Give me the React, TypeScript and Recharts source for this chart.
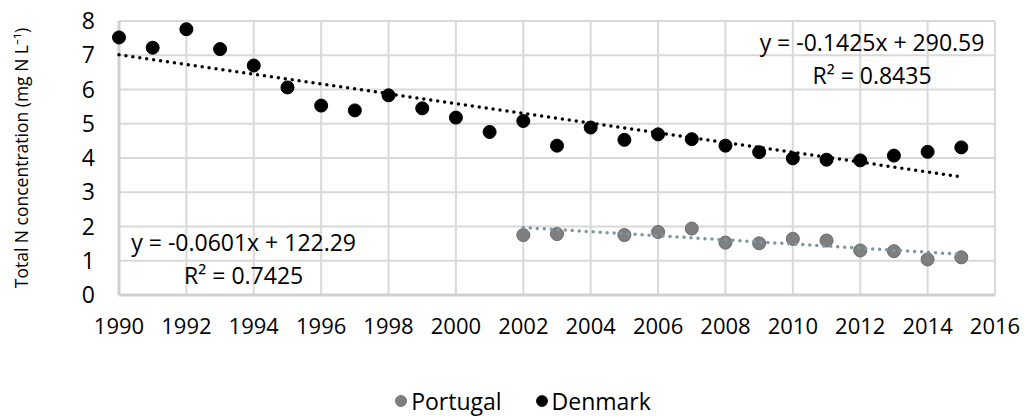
import React from 'react';
import { ScatterChart, Scatter, XAxis, YAxis, CartesianGrid, Legend, ReferenceDot } from 'recharts';

// values
const denmarkYears = [1990, 1991, 1992, 1993, 1994, 1995, 1996, 1997, 1998, 1999, 2000, 2001, 2002, 2003, 2004, 2005, 2006, 2007, 2008, 2009, 2010, 2011, 2012, 2013, 2014, 2015];
const denmarkValues = [7.52, 7.22, 7.76, 7.18, 6.7, 6.06, 5.53, 5.39, 5.83, 5.45, 5.18, 4.76, 5.08, 4.36, 4.89, 4.53, 4.69, 4.55, 4.36, 4.17, 3.99, 3.95, 3.93, 4.07, 4.18, 4.31];

const portugalYears = [2002, 2003, 2005, 2006, 2007, 2008, 2009, 2010, 2011, 2012, 2013, 2014, 2015];
const portugalValues = [1.75, 1.78, 1.75, 1.84, 1.94, 1.53, 1.51, 1.64, 1.59, 1.3, 1.28, 1.04, 1.1];

// linear trendlines as printed on the chart
const denmarkTrend = { slope: -0.1425, intercept: 290.59, r2: 0.8435 };
const portugalTrend = { slope: -0.0601, intercept: 122.29, r2: 0.7425 };

const seriesOrder = ['Portugal', 'Denmark'];
const xTicks = [1990, 1992, 1994, 1996, 1998, 2000, 2002, 2004, 2006, 2008, 2010, 2012, 2014, 2016];
const yTicks = [0, 1, 2, 3, 4, 5, 6, 7, 8];

const FONT = '"Open Sans", sans-serif';

const toPoints = (xs: number[], ys: number[]) => xs.map((x, i) => ({ x, y: ys[i] }));

const trendPoints = (xs: number[], t: { slope: number; intercept: number }) => {
  const first = xs[0];
  const last = xs[xs.length - 1];
  return [first, last].map(x => ({ x, y: t.slope * x + t.intercept }));
};

const eqText = (t: { slope: number; intercept: number }) =>
  `y = ${t.slope.toFixed(4)}x + ${t.intercept.toFixed(2)}`;

const Dot = (fill: string, stroke: string) => (props: any) => (
  <circle cx={props.cx} cy={props.cy} r={6.5} fill={fill} stroke={stroke} strokeWidth={1} />
);

const NoShape = () => <g />;

const textLabel = (value: string) => (p: any) => (
  <text
    x={p.viewBox.x}
    y={p.viewBox.y}
    textAnchor="middle"
    dominantBaseline="central"
    fontSize={23}
    fontFamily={FONT}
    fill="#000"
  >
    {value}
  </text>
);

const LegendContent = (props: any) => {
  const items = (props.payload || [])
    .filter((e: any) => e.type !== 'none')
    .sort((a: any, b: any) => seriesOrder.indexOf(a.value) - seriesOrder.indexOf(b.value));
  return (
    <div style={{ display: 'flex', justifyContent: 'center', alignItems: 'center', height: 26, paddingLeft: 56, fontFamily: FONT, fontSize: 23, lineHeight: '26px' }}>
      {items.map((e: any) => (
        <div key={e.value} style={{ display: 'flex', alignItems: 'center', marginRight: 34 }}>
          <svg width={12} height={12} style={{ marginRight: 4 }}>
            <circle cx={6} cy={6} r={5.5} fill={e.color} stroke={e.value === 'Portugal' ? '#6a6a6a' : '#000'} strokeWidth={0.8} />
          </svg>
          <span style={{ color: '#000' }}>{e.value}</span>
        </div>
      ))}
    </div>
  );
};

export default function App() {
  const denmark = toPoints(denmarkYears, denmarkValues);
  const portugal = toPoints(portugalYears, portugalValues);

  return (
    <div style={{ position: 'absolute', left: 0, top: 0, width: 1024, height: 416, background: '#fff', fontFamily: FONT }}>
      <ScatterChart width={1024} height={416} margin={{ top: 21, right: 29, bottom: 35, left: 0 }}>
        <CartesianGrid stroke="#d9d9d9" strokeWidth={2} />
        <XAxis
          type="number"
          dataKey="x"
          domain={[1990, 2016]}
          ticks={xTicks}
          interval={0}
          height={60}
          tickLine={false}
          tickSize={0}
          tickMargin={23}
          axisLine={{ stroke: '#d0d0d0', strokeWidth: 3 }}
          tick={{ fill: '#000', fontSize: 22, fontFamily: FONT }}
        />
        <YAxis
          type="number"
          dataKey="y"
          domain={[0, 8]}
          ticks={yTicks}
          interval={0}
          width={119}
          tickLine={false}
          tickSize={0}
          tickMargin={24}
          axisLine={{ stroke: '#d0d0d0', strokeWidth: 3 }}
          tick={{ fill: '#000', fontSize: 23, fontFamily: FONT }}
          label={{
            value: 'Total N concentration (mg N L⁻¹)',
            angle: -90,
            position: 'insideLeft',
            offset: 22,
            style: { textAnchor: 'middle', fontSize: 17.5, fontFamily: FONT, fill: '#000' },
          }}
        />
        <Scatter
          name="Portugal"
          data={portugal}
          fill="#7f7f7f"
          shape={Dot('#7f7f7f', '#6a6a6a')}
          isAnimationActive={false}
        />
        <Scatter
          name="Denmark"
          data={denmark}
          fill="#000000"
          shape={Dot('#000000', '#000000')}
          isAnimationActive={false}
        />
        <Scatter
          name="Denmark trend"
          data={trendPoints(denmarkYears, denmarkTrend)}
          legendType="none"
          shape={NoShape}
          line={{ stroke: '#000', strokeWidth: 3.5, strokeDasharray: '0 7', strokeLinecap: 'round' }}
          isAnimationActive={false}
        />
        <Scatter
          name="Portugal trend"
          data={trendPoints(portugalYears, portugalTrend)}
          legendType="none"
          shape={NoShape}
          line={{ stroke: '#7b96a4', strokeWidth: 3.5, strokeDasharray: '0 7', strokeLinecap: 'round' }}
          isAnimationActive={false}
        />
        <ReferenceDot x={2012.35} y={7.39} r={0} fill="none" stroke="none" label={textLabel(eqText(denmarkTrend))} />
        <ReferenceDot x={2012.35} y={6.42} r={0} fill="none" stroke="none" label={textLabel(`R² = ${denmarkTrend.r2}`)} />
        <ReferenceDot x={1993.7} y={1.55} r={0} fill="none" stroke="none" label={textLabel(eqText(portugalTrend))} />
        <ReferenceDot x={1993.7} y={0.58} r={0} fill="none" stroke="none" label={textLabel(`R² = ${portugalTrend.r2}`)} />
        <Legend
          verticalAlign="bottom"
          content={LegendContent}
          wrapperStyle={{ left: 0, width: 1024, top: 388, bottom: 'auto' }}
        />
      </ScatterChart>
    </div>
  );
}
